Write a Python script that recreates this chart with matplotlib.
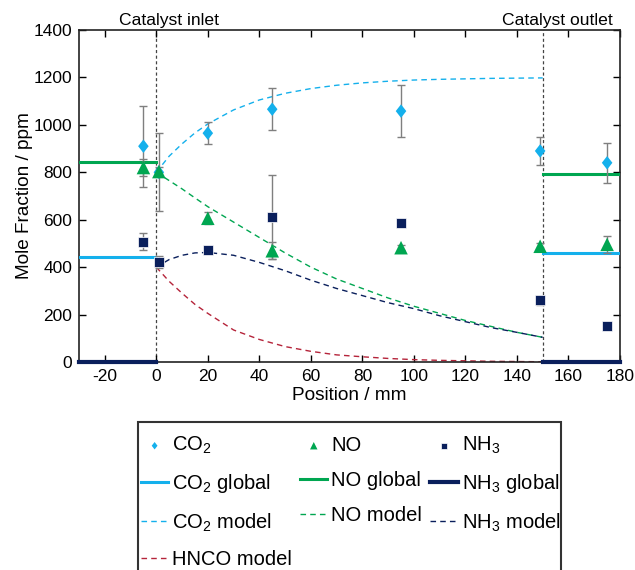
import matplotlib
matplotlib.use("Agg")
import matplotlib.pyplot as plt
from matplotlib.path import Path
from matplotlib.patches import Rectangle
import numpy as np

plt.rcParams['font.family'] = ['Liberation Sans', 'DejaVu Sans']
plt.rcParams['mathtext.fontset'] = 'custom'
plt.rcParams['mathtext.rm'] = 'Liberation Sans'
plt.rcParams['axes.unicode_minus'] = False

# measured points
pos_meas = [-5, 1, 20, 45, 95, 149, 175]
co2_meas = [910, 800, 965, 1066, 1058, 890, 840]
co2_err = [170, 165, 45, 88, 108, 58, 85]
no_meas = [820, 803, 606, 469, 482, 488, 496]
no_err = [35, 20, 25, 35, 10, 15, 35]
nh3_meas = [507, 420, 472, 612, 587, 260, 150]
nh3_err = [35, 25, 10, 178, 10, 20, 10]

# global values (inlet: -30..0, outlet: 150..180)
glob_in_x = [-30, 0]
glob_out_x = [150, 180]
co2_glob = [444, 461]
no_glob = [845, 793]
nh3_glob = [0, 0]

# model curves
pos_model = [0, 5, 10, 15, 20, 30, 40, 50, 60, 70, 80, 90, 100, 110, 120, 130, 140, 150]
co2_model = [800, 868, 920, 966, 1004, 1063, 1105, 1133, 1153, 1167, 1177, 1184, 1189, 1192, 1194, 1196, 1197, 1198]
no_model = [800, 765, 730, 692, 655, 590, 525, 460, 400, 350, 310, 270, 235, 205, 175, 150, 125, 104]
nh3_model = [400, 432, 450, 460, 462, 450, 420, 385, 345, 310, 280, 250, 225, 195, 170, 145, 125, 104]
hnco_model = [400, 340, 290, 243, 205, 135, 95, 65, 45, 30, 22, 15, 10, 7, 5, 3, 2, 1]

c_co2 = '#14b0ec'
c_no = '#00a651'
c_nh3 = '#0a1f5c'
c_hnco = '#b5243a'

diamond = Path([(0, 1), (0.78, 0), (0, -1), (-0.78, 0), (0, 1)],
               [Path.MOVETO, Path.LINETO, Path.LINETO, Path.LINETO, Path.CLOSEPOLY])

W, H = 635, 570
fig = plt.figure(figsize=(W/100, H/100), dpi=100)
ax = fig.add_axes([79/W, 1 - 362/H, (620-79)/W, (362-30)/H])

ax.axvline(0, color='#444444', ls=(0, (2.5, 2)), lw=0.9, zorder=1)
ax.axvline(150, color='#444444', ls=(0, (2.5, 2)), lw=0.9, zorder=1)

# globals
h_cg, = ax.plot(glob_in_x, [co2_glob[0]]*2, color=c_co2, lw=2.2, label='CO$_2$ global', zorder=3)
ax.plot(glob_out_x, [co2_glob[1]]*2, color=c_co2, lw=2.2, zorder=3)
h_ng, = ax.plot(glob_in_x, [no_glob[0]]*2, color=c_no, lw=2.2, label='NO global', zorder=3)
ax.plot(glob_out_x, [no_glob[1]]*2, color=c_no, lw=2.2, zorder=3)
h_hg, = ax.plot(glob_in_x, [nh3_glob[0]]*2, color=c_nh3, lw=3, label='NH$_3$ global', zorder=3, clip_on=False)
ax.plot(glob_out_x, [nh3_glob[1]]*2, color=c_nh3, lw=3, zorder=3, clip_on=False)

# models
dash = (0, (4, 3))
h_cm, = ax.plot(pos_model, co2_model, color=c_co2, lw=1.0, ls=dash, label='CO$_2$ model')
h_nm, = ax.plot(pos_model, no_model, color=c_no, lw=1.0, ls=dash, label='NO model')
h_hm, = ax.plot(pos_model, nh3_model, color=c_nh3, lw=1.0, ls=dash, label='NH$_3$ model')
h_hn, = ax.plot(pos_model, hnco_model, color=c_hnco, lw=1.0, ls=dash, label='HNCO model')

# error bars
ekw = dict(fmt='none', ecolor='#7f7f7f', elinewidth=1.0, capsize=3, capthick=1.0, zorder=4)
ax.errorbar(pos_meas, co2_meas, yerr=co2_err, **ekw)
ax.errorbar(pos_meas, no_meas, yerr=no_err, **ekw)
ax.errorbar(pos_meas, nh3_meas, yerr=nh3_err, **ekw)

h_c = ax.scatter(pos_meas, co2_meas, marker=diamond, s=95, color=c_co2, edgecolors='none', zorder=5, label='CO$_2$')
h_n = ax.scatter(pos_meas, no_meas, marker='^', s=95, color=c_no, edgecolors='none', zorder=5, label='NO')
h_h = ax.scatter(pos_meas, nh3_meas, marker='s', s=60, color=c_nh3, edgecolors='white', linewidths=0.5, zorder=6, label='NH$_3$')

ax.set_xlim(-30, 180)
ax.set_ylim(0, 1400)
ax.set_xticks(np.arange(-20, 181, 20))
ax.set_yticks(np.arange(0, 1401, 200))
ax.tick_params(direction='in', top=True, right=True, labelsize=12.5, length=5, width=1.0, pad=5)
for sp in ax.spines.values():
    sp.set_linewidth(1.2)
    sp.set_color('#222222')
ax.set_xlabel('Position / mm', fontsize=13.7, labelpad=2)
ax.set_ylabel('Mole Fraction / ppm', fontsize=13.7, labelpad=0)

ax.text(5, 1410, 'Catalyst inlet', ha='center', va='bottom', fontsize=12.6)
ax.text(155.7, 1410, 'Catalyst outlet', ha='center', va='bottom', fontsize=12.6)

handles = [h_c, h_cg, h_cm, h_hn, h_n, h_ng, h_nm, h_h, h_hg, h_hm]
leg = fig.legend(handles=handles, labels=[h.get_label() for h in handles], ncol=3,
                 loc='upper left', bbox_to_anchor=(138/W, 1 - 432/H),
                 fontsize=14.5, frameon=False,
                 handlelength=1.35, handletextpad=0.2, columnspacing=0.4, labelspacing=0.8,
                 borderpad=0.15, markerscale=0.55, borderaxespad=0)
# legend box (extends below the figure edge as in the reference)
fig.patches.append(Rectangle((138/W, -20/H), (561-138)/W, (H - 422 + 20)/H,
                             transform=fig.transFigure, fill=False,
                             edgecolor='#333333', linewidth=1.5, zorder=0))

fig.savefig('out.png', dpi=100)
